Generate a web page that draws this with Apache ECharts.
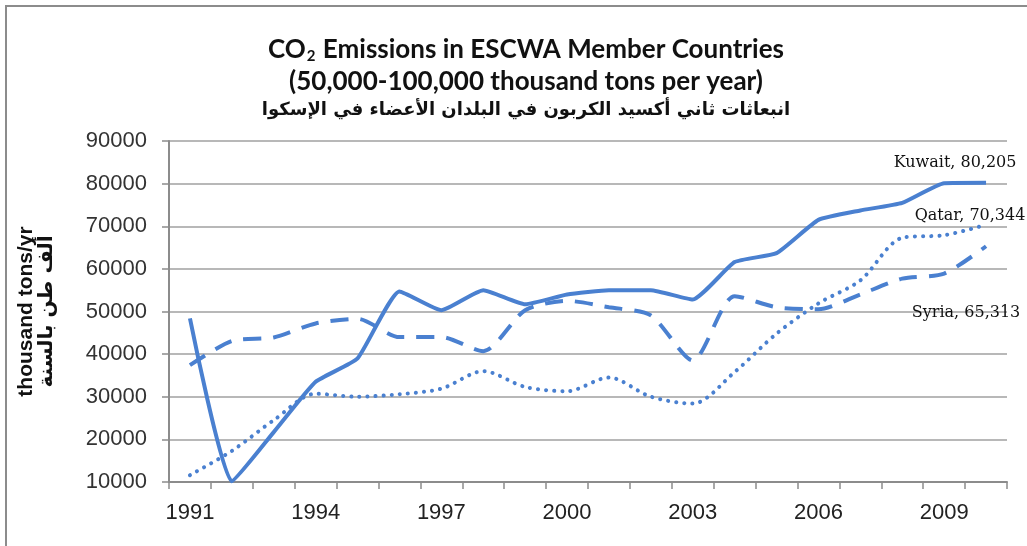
<!DOCTYPE html>
<html>
<head>
<meta charset="utf-8">
<script src="https://cdn.jsdelivr.net/npm/echarts@6/dist/echarts.min.js"></script>
<style>
  html, body { margin: 0; padding: 0; background: #fff; }
  #chart { width: 1027px; height: 546px; }
</style>
</head>
<body>
<div id="chart"></div>
<script>
const years = ['1991', '1992', '1993', '1994', '1995', '1996', '1997', '1998', '1999', '2000',
  '2001', '2002', '2003', '2004', '2005', '2006', '2007', '2008', '2009', '2010']
const kuwait = [48400, 10200, 21700, 33500, 39000, 54700, 50300, 55000, 51700, 54000,
  55000, 55000, 52800, 61600, 63700, 71500, 73700, 75500, 80100, 80205]
const qatar = [11600, 17300, 24500, 30700, 30000, 30600, 31900, 36000, 32300, 31300,
  34500, 30000, 28400, 35800, 44800, 51900, 57300, 67300, 67900, 70344]
const syria = [37400, 43100, 43900, 47200, 48300, 44000, 44000, 40700, 50300, 52500,
  51000, 49100, 38500, 53600, 51000, 50500, 54000, 57700, 58900, 65313]
const seriesNames = ['Kuwait', 'Qatar', 'Syria']
const yTicks = { min: 10000, max: 90000, step: 10000 }

const blue = '#4a80d0'

// "Name, 80,205" label placed near the last point of each line
function endLabel(offset) {
  return {
    show: true,
    distance: 0,
    align: 'center',
    verticalAlign: 'middle',
    offset: offset,
    fontFamily: 'DejaVu Serif',
    fontSize: 16,
    color: '#111',
    formatter: p => p.seriesName + ', ' + Number(p.value).toLocaleString('en-US')
  }
}

const chart = echarts.init(document.getElementById('chart'))

chart.setOption({
  animation: false,
  graphic: [{
    type: 'rect',
    shape: { x: 6, y: 6, width: 1100, height: 700 },
    style: { fill: 'none', stroke: '#8c8c8c', lineWidth: 2 },
    silent: true
  }],
  title: [
    {
      text: '{b|CO}{s|2}{b| Emissions in ESCWA Member Countries}',
      left: 521, top: 31, textAlign: 'center',
      textStyle: {
        rich: {
          b: { fontFamily: 'Lato', fontWeight: 'bold', fontSize: 26, color: '#111' },
          s: { fontFamily: 'Lato', fontWeight: 'bold', fontSize: 15, color: '#111', padding: [13, 1, 0, 1] }
        }
      }
    },
    {
      text: '(50,000-100,000 thousand tons per year)',
      left: 521, top: 64, textAlign: 'center',
      textStyle: { fontFamily: 'Lato', fontWeight: 'bold', fontSize: 26, color: '#111' }
    },
    {
      text: 'انبعاثات ثاني أكسيد الكربون في البلدان الأعضاء في الإسكوا',
      left: 521, top: 96, textAlign: 'center',
      textStyle: { fontFamily: 'DejaVu Sans', fontWeight: 'bold', fontSize: 18, color: '#111' }
    }
  ],
  grid: { left: 169, right: 20, top: 141, bottom: 64 },
  xAxis: {
    type: 'category',
    data: years,
    boundaryGap: true,
    axisLine: { lineStyle: { color: '#8c8c8c', width: 2 } },
    axisTick: { show: true, interval: 0, length: 7, lineStyle: { color: '#8c8c8c', width: 1.5 } },
    axisLabel: {
      interval: 2,
      margin: 20,
      fontFamily: 'Liberation Sans',
      fontSize: 22,
      color: '#222'
    },
    splitLine: { show: false }
  },
  yAxis: {
    type: 'value',
    min: yTicks.min,
    max: yTicks.max,
    interval: yTicks.step,
    name: '{e|thousand tons/yr}\n{a|ألف طن بالسنة}',
    nameLocation: 'middle',
    nameRotate: 90,
    nameGap: 112,
    nameTextStyle: {
      rich: {
        e: { fontFamily: 'Liberation Sans', fontWeight: 'bold', fontSize: 21, lineHeight: 21, color: '#111' },
        a: { fontFamily: 'DejaVu Sans', fontWeight: 'bold', fontSize: 20, lineHeight: 20, color: '#111' }
      }
    },
    axisLine: { show: true, lineStyle: { color: '#8c8c8c', width: 2 } },
    axisTick: { show: true, length: 7, lineStyle: { color: '#8c8c8c', width: 1.5 } },
    axisLabel: {
      margin: 22,
      fontFamily: 'Liberation Sans',
      fontSize: 22,
      color: '#333',
      formatter: v => String(v)
    },
    splitLine: { show: true, lineStyle: { color: '#a0a0a0', width: 1.5 } }
  },
  series: [
    {
      name: seriesNames[0],
      type: 'line',
      data: kuwait,
      showSymbol: false,
      smooth: 0.15,
      lineStyle: { color: blue, width: 4 },
      endLabel: endLabel([-31, -20])
    },
    {
      name: seriesNames[1],
      type: 'line',
      data: qatar,
      showSymbol: false,
      smooth: 0.3,
      lineStyle: { color: blue, width: 4, type: [0.1, 8], cap: 'round' },
      endLabel: endLabel([-16, -9])
    },
    {
      name: seriesNames[2],
      type: 'line',
      data: syria,
      showSymbol: false,
      smooth: 0.25,
      lineStyle: { color: blue, width: 4, type: [18, 12] },
      endLabel: endLabel([-20, 67])
    }
  ]
})
</script>
</body>
</html>
